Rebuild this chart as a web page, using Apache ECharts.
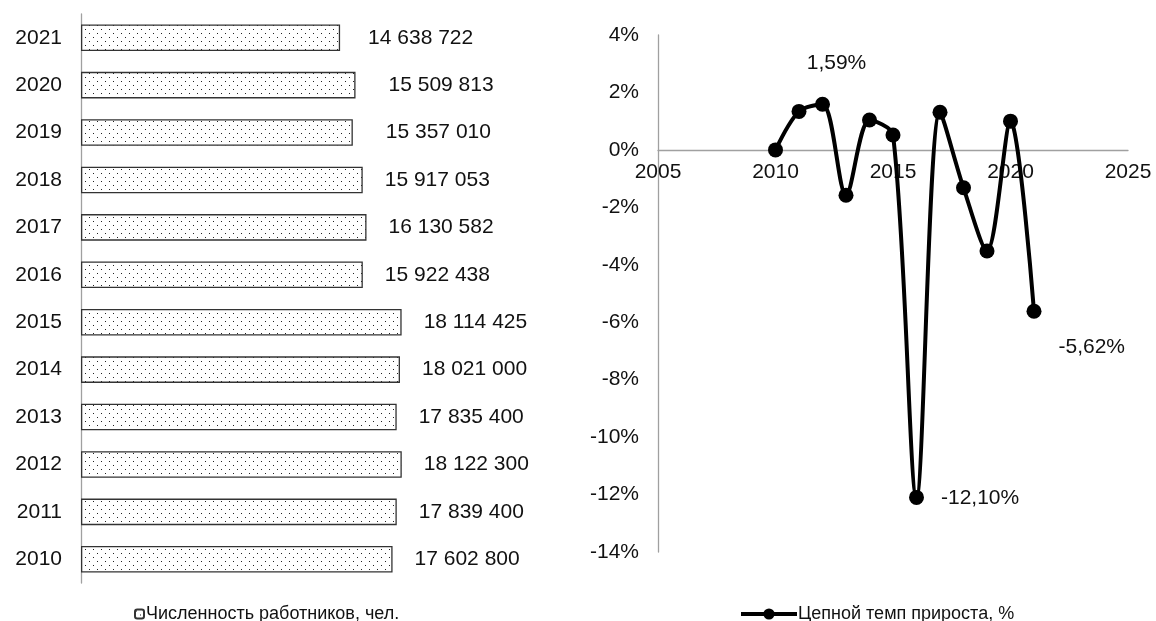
<!DOCTYPE html>
<html>
<head>
<meta charset="utf-8">
<script src="https://cdn.jsdelivr.net/npm/echarts@6/dist/echarts.min.js"></script>
<style>
html,body{margin:0;padding:0;background:#fff;}
#chart{width:1156px;height:621px;}
</style>
</head>
<body>
<div id="chart"></div>
<script>
// ---- data ----
const years = ['2010','2011','2012','2013','2014','2015','2016','2017','2018','2019','2020','2021'];
const workers = [17602800, 17839400, 18122300, 17835400, 18021000, 18114425, 15922438, 16130582, 15917053, 15357010, 15509813, 14638722];
const growthYears = [2010, 2011, 2012, 2013, 2014, 2015, 2016, 2017, 2018, 2019, 2020, 2021];
const growthPct = [0, 1.34, 1.59, -1.58, 1.04, 0.52, -12.10, 1.31, -1.32, -3.52, 1.00, -5.62];
const labelledYears = [2012, 2016, 2021];
const barSeriesName = 'Численность работников, чел.';
const lineSeriesName = 'Цепной темп прироста, %';

// ---- style helpers ----
const FONT = "'Liberation Sans', Arial, sans-serif";
const TXT = '#111';
const AXIS = '#a0a0a0';

const tile = document.createElement('canvas');
tile.width = 8; tile.height = 8;
const tctx = tile.getContext('2d');
tctx.fillStyle = '#ffffff';
tctx.fillRect(0, 0, 8, 8);
tctx.fillStyle = '#222222';
tctx.fillRect(1, 1, 1, 1);
tctx.fillRect(5, 5, 1, 1);
const dotPattern = { image: tile, repeat: 'repeat' };

const labelGap = { '2021': 28, '2020': 33, '2019': 33 };

function spaced(v) {
  return String(v).replace(/\B(?=(\d{3})+(?!\d))/g, ' ');
}
function pct(v) {
  return v.toFixed(2).replace('.', ',') + '%';
}

const barData = workers.map((v, i) => ({
  value: v,
  label: { distance: labelGap[years[i]] || 22 }
}));

const labelCfg = {
  2012: { position: 'top', distance: 5, offset: [14, -18] },
  2016: { position: 'right', distance: 17, offset: [0, 1] },
  2021: { position: 'right', distance: 17, offset: [0, 36] }
};
const lineData = growthYears.map((y, i) => {
  const d = { value: [y, growthPct[i]] };
  if (labelledYears.indexOf(y) >= 0) {
    d.label = Object.assign({ show: true }, labelCfg[y]);
  }
  return d;
});

const Y_MIN = -14, Y_MAX = 4;
const LINE_TOP = 35, LINE_H = 517;
const zeroOffset = -LINE_H * (0 - Y_MIN) / (Y_MAX - Y_MIN);

const chart = echarts.init(document.getElementById('chart'), null, { renderer: 'canvas' });
chart.setOption({
  animation: false,
  textStyle: { fontFamily: FONT, color: TXT },
  grid: [
    { left: 81, top: 14, width: 354, height: 569 },
    { left: 658, top: LINE_TOP, width: 470, height: LINE_H }
  ],
  xAxis: [
    { gridIndex: 0, type: 'value', min: 0, max: 20000000, show: false },
    {
      gridIndex: 1, type: 'value', min: 2005, max: 2025, interval: 5,
      position: 'bottom', offset: zeroOffset,
      axisLine: { show: true, onZero: false, lineStyle: { color: AXIS, width: 1.3 } },
      axisTick: { show: false },
      splitLine: { show: false },
      axisLabel: { color: TXT, fontSize: 21, fontFamily: FONT, margin: 12, formatter: v => String(v) }
    }
  ],
  yAxis: [
    {
      gridIndex: 0, type: 'category', data: years,
      axisLine: { show: true, lineStyle: { color: AXIS, width: 1.3 } },
      axisTick: { show: false },
      axisLabel: { color: TXT, fontSize: 21, fontFamily: FONT, margin: 19 }
    },
    {
      gridIndex: 1, type: 'value', min: Y_MIN, max: Y_MAX, interval: 2,
      axisLine: { show: true, onZero: false, lineStyle: { color: AXIS, width: 1.3 } },
      axisTick: { show: false },
      splitLine: { show: false },
      axisLabel: { color: TXT, fontSize: 21, fontFamily: FONT, margin: 19, formatter: v => v + '%' }
    }
  ],
  legend: [
    {
      data: [barSeriesName], left: 129, top: 600,
      itemWidth: 9, itemHeight: 9, itemGap: 4,
      textStyle: { fontSize: 18, color: TXT, fontFamily: FONT, padding: [0, 0, 0, -3] }
    },
    {
      data: [lineSeriesName], left: 734, top: 600,
      itemWidth: 56, itemHeight: 14,
      lineStyle: { width: 4 },
      textStyle: { fontSize: 18, color: TXT, fontFamily: FONT, padding: [0, 0, 0, -4] }
    }
  ],
  series: [
    {
      name: barSeriesName, type: 'bar', xAxisIndex: 0, yAxisIndex: 0,
      data: barData, barCategoryGap: '44%',
      itemStyle: { color: dotPattern, borderColor: '#333', borderWidth: 1.3 },
      label: {
        show: true, position: 'right', color: TXT, fontSize: 21, fontFamily: FONT,
        formatter: p => spaced(p.value)
      }
    },
    {
      name: lineSeriesName, type: 'line', xAxisIndex: 1, yAxisIndex: 1,
      data: lineData, smooth: 0.3,
      symbol: 'circle', symbolSize: 15,
      lineStyle: { color: '#000', width: 4 },
      itemStyle: { color: '#000' },
      label: { show: false, color: TXT, fontSize: 21, fontFamily: FONT, formatter: p => pct(p.value[1]) }
    }
  ]
});
</script>
</body>
</html>
